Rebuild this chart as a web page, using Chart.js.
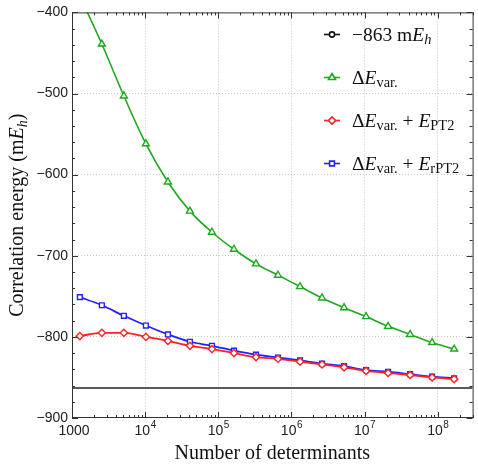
<!DOCTYPE html>
<html>
<head>
<meta charset="utf-8">
<script src="https://cdn.jsdelivr.net/npm/chart.js@4.4.0/dist/chart.umd.min.js"></script>
<style>
  html, body { margin: 0; padding: 0; background: #fff; }
  #wrap { width: 478px; height: 464px; }
</style>
</head>
<body>
<div id="wrap"><canvas id="energyChart"></canvas></div>
<script>
"use strict";

// number of determinants (x) and correlation energies in mEh (y)
const determinants = [1280, 2560, 5120, 10240, 20480, 40960, 81920, 163840, 327680,
    655360, 1310720, 2621440, 5242880, 10485760, 20971520, 41943040, 83886080, 167772160];
const eVar = [-380, -439, -503, -562, -609, -645, -671, -692, -710,
    -724, -738, -752, -764, -775, -787, -797, -807, -815];
const eVarPT2 = [-799, -795, -795, -800, -805, -811, -815, -820, -825,
    -827, -830.5, -834, -837.5, -842, -844.5, -847, -850, -852];
const eVarRPT2 = [-751, -761, -774, -786, -797, -806, -811, -817, -822,
    -825.5, -829, -833, -836, -841, -843, -846, -849, -851];
const exactLine = -863;
const xRange = [1000, 3e8];
const xTicks = [1e3, 1e4, 1e5, 1e6, 1e7, 1e8];
const xTickLabels = ['1000', '10^4', '10^5', '10^6', '10^7', '10^8'];
const yRange = [-900, -400];

const green = '#1ea81e';
const red = '#ff2222';
const blue = '#2222ff';
const serif = '"Liberation Serif", "DejaVu Serif", serif';
const sans = '"Liberation Sans", Arial, sans-serif';

function toPoints(ys) {
    return determinants.map((x, i) => ({ x: x, y: ys[i] }));
}

// draw a run of text pieces with italics / subscripts
function richWidth(ctx, segs, size, subScale) {
    let w = 0;
    segs.forEach(s => {
        ctx.font = (s.it ? 'italic ' : '') + (s.sub ? size * subScale : size) + 'px ' + serif;
        w += ctx.measureText(s.t).width;
    });
    return w;
}
function drawRich(ctx, segs, x, y, size, subScale) {
    segs.forEach(s => {
        ctx.font = (s.it ? 'italic ' : '') + (s.sub ? size * subScale : size) + 'px ' + serif;
        ctx.fillText(s.t, x, y + (s.sub ? size * 0.2 : 0));
        x += ctx.measureText(s.t).width;
    });
}

const legendRows = [
    { color: '#111', style: 'circle', r: 2.6, segs: [{ t: '−863 m' }, { t: 'E', it: 1 }, { t: 'h', it: 1, sub: 1 }] },
    { color: green, style: 'triangle', r: 4, segs: [{ t: 'Δ' }, { t: 'E', it: 1 }, { t: 'var.', sub: 1 }] },
    { color: red, style: 'rectRot', r: 3.6, segs: [{ t: 'Δ' }, { t: 'E', it: 1 }, { t: 'var.', sub: 1 }, { t: ' + ' }, { t: 'E', it: 1 }, { t: 'PT2', sub: 1 }] },
    { color: blue, style: 'rect', r: 3.4, segs: [{ t: 'Δ' }, { t: 'E', it: 1 }, { t: 'var.', sub: 1 }, { t: ' + ' }, { t: 'E', it: 1 }, { t: 'rPT2', sub: 1 }] }
];

const framePlugin = {
    id: 'frame',
    afterDatasetsDraw(chart) {
        const ctx = chart.ctx;
        const a = chart.chartArea;
        const xs = chart.scales.x;
        const ys = chart.scales.y;
        ctx.save();
        ctx.strokeStyle = '#333';
        ctx.lineWidth = 1;
        ctx.strokeRect(a.left + 0.5, a.top + 0.5, a.right - a.left, a.bottom - a.top - 1);
        ctx.beginPath();
        // x ticks, inward on bottom and top
        for (let e = 3; e <= 8; e++) {
            for (let m = 1; m <= 9; m++) {
                const v = m * Math.pow(10, e);
                if (v > xRange[1]) continue;
                const px = Math.round(xs.getPixelForValue(v)) + 0.5;
                const len = m === 1 ? 6 : 3;
                ctx.moveTo(px, a.bottom); ctx.lineTo(px, a.bottom - len);
                ctx.moveTo(px, a.top); ctx.lineTo(px, a.top + len);
            }
        }
        // y ticks, inward on left and right
        for (let v = yRange[0]; v <= yRange[1]; v += 20) {
            const py = Math.round(ys.getPixelForValue(v)) + 0.5;
            const len = v % 100 === 0 ? 6 : 3;
            ctx.moveTo(a.left, py); ctx.lineTo(a.left + len, py);
            ctx.moveTo(a.right, py); ctx.lineTo(a.right - len, py);
        }
        ctx.stroke();
        ctx.restore();
    },
    afterDraw(chart) {
        const ctx = chart.ctx;
        const a = chart.chartArea;
        const xs = chart.scales.x;

        // x tick labels with real superscripts
        ctx.save();
        ctx.fillStyle = '#222';
        ctx.textBaseline = 'alphabetic';
        xTicks.forEach((v, i) => {
            const parts = xTickLabels[i].split('^');
            ctx.font = '14px ' + sans;
            const wBase = ctx.measureText(parts[0]).width;
            ctx.font = '10px ' + sans;
            const wExp = parts[1] ? ctx.measureText(parts[1]).width : 0;
            const px = xs.getPixelForValue(v);
            let x0 = px - (wBase + wExp) / 2;
            if (!parts[1]) x0 += 2;
            ctx.font = '14px ' + sans;
            ctx.fillText(parts[0], x0, a.bottom + 17);
            if (parts[1]) {
                ctx.font = '10px ' + sans;
                ctx.fillText(parts[1], x0 + wBase + 0.5, a.bottom + 10);
            }
        });
        ctx.restore();

        ctx.save();
        // y axis title
        const titleSegs = [{ t: 'Correlation energy (m' }, { t: 'E', it: 1 }, { t: 'h', it: 1, sub: 1 }, { t: ')' }];
        ctx.fillStyle = '#111';
        ctx.textBaseline = 'alphabetic';
        const w = richWidth(ctx, titleSegs, 20, 0.7);
        ctx.translate(23, (a.top + a.bottom) / 2);
        ctx.rotate(-Math.PI / 2);
        drawRich(ctx, titleSegs, -w / 2, 0, 20, 0.7);
        ctx.restore();

        // legend
        ctx.save();
        legendRows.forEach((row, i) => {
            const y = 34.5 + i * 43;
            ctx.strokeStyle = row.color;
            ctx.lineWidth = 1.6;
            ctx.beginPath();
            ctx.moveTo(324, y); ctx.lineTo(340, y);
            ctx.stroke();
            ctx.fillStyle = '#fff';
            Chart.helpers.drawPoint(ctx, { pointStyle: row.style, radius: row.r, borderWidth: 1.4, rotation: 0 }, 332, y);
            ctx.fillStyle = '#111';
            ctx.textBaseline = 'alphabetic';
            drawRich(ctx, row.segs, 352, y + 6, 19.5, 0.74);
        });
        ctx.restore();
    }
};

const ctx = document.getElementById('energyChart').getContext('2d');
const energyChart = new Chart(ctx, {
    type: 'line',
    data: {
        datasets: [
            {
                label: '−863 mEh',
                data: [{ x: xRange[0], y: exactLine }, { x: xRange[1], y: exactLine }],
                borderColor: '#222',
                borderWidth: 1.6,
                pointRadius: 0,
            },
            {
                label: 'ΔEvar.',
                data: toPoints(eVar),
                borderColor: green,
                backgroundColor: '#fff',
                borderWidth: 1.6,
                pointStyle: 'triangle',
                pointRadius: 4,
                pointBorderWidth: 1.4,
                cubicInterpolationMode: 'monotone',
            },
            {
                label: 'ΔEvar. + EPT2',
                data: toPoints(eVarPT2),
                borderColor: red,
                backgroundColor: '#fff',
                borderWidth: 1.8,
                pointStyle: 'rectRot',
                pointRadius: 3.6,
                pointBorderWidth: 1.4,
                cubicInterpolationMode: 'monotone',
            },
            {
                label: 'ΔEvar. + ErPT2',
                data: toPoints(eVarRPT2),
                borderColor: blue,
                backgroundColor: '#fff',
                borderWidth: 1.8,
                pointStyle: 'rect',
                pointRadius: 3.4,
                pointBorderWidth: 1.4,
                cubicInterpolationMode: 'monotone',
            }
        ]
    },
    options: {
        responsive: true,
        maintainAspectRatio: false,
        animation: false,
        layout: { padding: { top: 12, right: 0, left: 0, bottom: 0 } },
        plugins: {
            legend: { display: false },
            tooltip: { enabled: false }
        },
        scales: {
            x: {
                type: 'logarithmic',
                min: xRange[0],
                max: xRange[1],
                afterBuildTicks: scale => { scale.ticks = xTicks.map(v => ({ value: v, major: true })); },
                afterFit: scale => { scale.height = 46; },
                ticks: {
                    display: false,
                    autoSkip: false,
                    maxRotation: 0
                },
                grid: {
                    drawTicks: false,
                    color: c => (c.tick && c.tick.value === xRange[0]) ? 'rgba(0,0,0,0)' : '#c8c8c8',
                    lineWidth: 1
                },
                border: { display: false, dash: [1, 2] },
                title: {
                    display: true,
                    text: 'Number of determinants',
                    color: '#111',
                    font: { family: serif, size: 20, lineHeight: 1 },
                    padding: { top: 0, bottom: 0 }
                }
            },
            y: {
                type: 'linear',
                min: yRange[0],
                max: yRange[1],
                afterFit: scale => { scale.width = 72; },
                ticks: {
                    stepSize: 100,
                    padding: 4,
                    color: '#222',
                    font: { family: sans, size: 14 },
                    callback: v => '−' + Math.abs(v)
                },
                grid: {
                    drawTicks: false,
                    color: c => (c.tick && (c.tick.value === yRange[0] || c.tick.value === yRange[1])) ? 'rgba(0,0,0,0)' : '#c8c8c8',
                    lineWidth: 1
                },
                border: { display: false, dash: [1, 2] }
            }
        }
    },
    plugins: [framePlugin]
});
</script>
</body>
</html>
